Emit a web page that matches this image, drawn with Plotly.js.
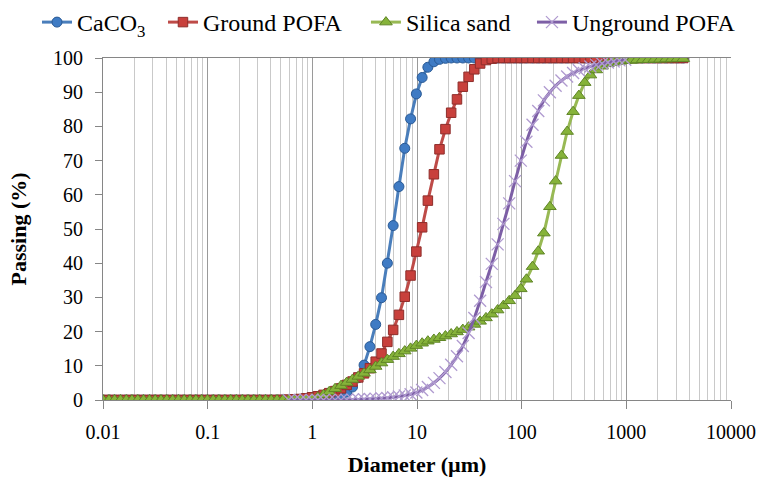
<!DOCTYPE html>
<html>
<head>
<meta charset="utf-8">
<script src="https://cdn.plot.ly/plotly-3.0.1.min.js"></script>
<style>
  html, body { margin: 0; padding: 0; background: #ffffff; }
  #chart { width: 763px; height: 482px; }
</style>
</head>
<body>
<div id="chart"></div>
<script>
// Particle size classes (µm)
const sizes = [
  0.0100, 0.0114, 0.0129, 0.0147, 0.0167, 0.0189, 0.0215, 0.0244, 0.0278, 0.0315,
  0.0358, 0.0407, 0.0463, 0.0526, 0.0597, 0.0679, 0.0771, 0.0876, 0.0995, 0.113,
  0.128, 0.146, 0.166, 0.188, 0.214, 0.243, 0.276, 0.314, 0.357, 0.405,
  0.460, 0.523, 0.594, 0.675, 0.767, 0.872, 0.991, 1.13, 1.28, 1.45,
  1.65, 1.88, 2.13, 2.42, 2.75, 3.12, 3.55, 4.03, 4.58, 5.21,
  5.92, 6.72, 7.64, 8.68, 9.86, 11.2, 12.7, 14.5, 16.4, 18.7,
  21.2, 24.1, 27.4, 31.1, 35.3, 40.1, 45.6, 51.8, 58.9, 66.9,
  76.0, 86.4, 98.1, 111, 127, 144, 163, 186, 211, 240,
  272, 310, 352, 400, 454, 516, 586, 666, 756, 859,
  976, 1110, 1260, 1430, 1630, 1850, 2100, 2390, 2710, 3080,
  3500
];

// Cumulative passing (%)
const caco3 = [
  0, 0, 0, 0, 0, 0, 0, 0, 0, 0,
  0, 0, 0, 0, 0, 0, 0, 0, 0, 0,
  0, 0, 0, 0, 0, 0, 0, 0, 0, 0,
  0, 0, 0, 0, 0, 0, 0, 0, 0.1, 0.3,
  0.7, 1.3, 2.3, 3.8, 6.5, 10.2, 15.6, 22.1, 29.9, 40.0,
  51.0, 62.4, 73.6, 82.2, 89.5, 94.3, 97.3, 98.9, 99.6, 99.9,
  100, 100, 100, 100, 100, 100, 100, 100, 100, 100,
  100, 100, 100, 100, 100, 100, 100, 100, 100, 100,
  100, 100, 100, 100, 100, 100, 100, 100, 100, 100,
  100, 100, 100, 100, 100, 100, 100, 100, 100, 100,
  100
];

const groundPOFA = [
  0, 0, 0, 0, 0, 0, 0, 0, 0, 0,
  0, 0, 0, 0, 0, 0, 0, 0, 0, 0,
  0, 0, 0, 0, 0, 0, 0, 0, 0, 0,
  0, 0.05, 0.1, 0.2, 0.3, 0.5, 0.8, 1.1, 1.5, 2.0,
  2.6, 3.4, 4.4, 5.4, 6.6, 7.8, 9.3, 11.2, 13.6, 17.0,
  20.5, 24.9, 30.2, 36.4, 43.4, 50.5, 58.3, 66.0, 73.3, 79.2,
  84.0, 87.9, 91.6, 94.5, 96.7, 98.4, 99.4, 99.8, 100, 100,
  100, 100, 100, 100, 100, 100, 100, 100, 100, 100,
  100, 100, 100, 100, 100, 100, 100, 100, 100, 100,
  100, 100, 100, 100, 100, 100, 100, 100, 100, 100,
  100
];

const silicaSand = [
  0, 0, 0, 0, 0, 0, 0, 0, 0, 0,
  0, 0, 0, 0, 0, 0, 0, 0, 0, 0,
  0, 0, 0, 0, 0, 0, 0, 0, 0, 0,
  0, 0, 0, 0, 0, 0.1, 0.3, 0.8, 1.5, 2.4,
  3.3, 4.2, 5.1, 6.0, 6.9, 7.8, 8.8, 9.8, 10.8, 11.8,
  12.7, 13.5, 14.3, 15.1, 15.9, 16.6, 17.2, 17.7, 18.2, 18.7,
  19.3, 19.9, 20.6, 21.3, 22.1, 23.0, 24.0, 25.1, 26.3, 27.6,
  29.0, 30.5, 32.5, 35.3, 39.0, 43.5, 48.8, 56.5, 64.0, 71.5,
  78.5, 84.3, 89.0, 92.8, 95.0, 96.5, 97.6, 98.3, 98.7, 99.0,
  99.2, 99.3, 99.4, 99.5, 99.5, 99.6, 99.6, 99.7, 99.7, 99.8,
  99.8
];

const ungroundPOFA = [
  null, null, null, null, null, null, null, null, null, null,
  null, null, null, null, null, null, null, null, null, null,
  null, null, null, null, null, null, null, null, null, null,
  null, null, 0, 0, 0, 0, 0, 0, 0, 0,
  0, 0, 0.05, 0.1, 0.15, 0.2, 0.3, 0.4, 0.5, 0.6,
  0.8, 1.0, 1.3, 1.7, 2.2, 2.9, 3.8, 5.0, 6.4, 8.2,
  10.3, 12.8, 15.8, 19.6, 24.0, 29.0, 34.5, 39.8, 45.5, 51.5,
  57.5, 64.0, 70.0, 75.5, 80.5, 84.5, 87.6, 90.0, 91.9, 93.4,
  94.6, 95.6, 96.4, 97.0, 97.5, 98.0, 98.4, 98.7, 99.0, 99.3,
  99.5, null, null, null, null, null, null, null, null, null,
  null
];

const seriesNames = ['CaCO<sub>3</sub>', 'Ground POFA', 'Silica sand', 'Unground POFA'];
const xTickVals = [0.01, 0.1, 1, 10, 100, 1000, 10000];
const xTickText = ['0.01', '0.1', '1', '10', '100', '1000', '10000'];

const serif = 'Liberation Serif';

const traces = [
  {
    x: sizes, y: caco3, name: seriesNames[0], type: 'scatter', mode: 'lines+markers',
    line: { color: '#4a7ebb', width: 3 },
    marker: { symbol: 'circle', size: 10, color: '#3f7bc4', line: { color: '#2a5a95', width: 1 } },
    legendwidth: 0.2006
  },
  {
    x: sizes, y: groundPOFA, name: seriesNames[1], type: 'scatter', mode: 'lines+markers',
    line: { color: '#be4b48', width: 3 },
    marker: { symbol: 'square', size: 9.5, color: '#c8403c', line: { color: '#8e2e2b', width: 1 } },
    legendwidth: 0.3232
  },
  {
    x: sizes, y: silicaSand, name: seriesNames[2], type: 'scatter', mode: 'lines+markers',
    line: { color: '#98b954', width: 3 },
    marker: { symbol: 'triangle-up', size: 11, color: '#86b33a', line: { color: '#5f8526', width: 1 } },
    legendwidth: 0.2643
  },
  {
    x: sizes, y: ungroundPOFA, name: seriesNames[3], type: 'scatter', mode: 'lines+markers',
    line: { color: '#7d5fa6', width: 3, shape: 'spline' },
    marker: { symbol: 'x-thin-open', size: 12, color: '#b09bd0', line: { color: '#a58cc8', width: 1.3 } },
    legend: 'legend2'
  }
];

const legendFont = { family: serif, size: 24, color: '#000000' };

const layout = {
  width: 763, height: 482,
  margin: { l: 103, r: 32, t: 58, b: 82 },
  paper_bgcolor: '#ffffff', plot_bgcolor: '#ffffff',
  font: { family: serif, size: 20, color: '#000000' },
  showlegend: true,
  legend: {
    orientation: 'h', xref: 'container', yref: 'container',
    x: 0.0485, y: 1.0, xanchor: 'left', yanchor: 'top',
    entrywidthmode: 'fraction',
    font: legendFont,
    bgcolor: 'rgba(0,0,0,0)', borderwidth: 0
  },
  legend2: {
    orientation: 'h', xref: 'container', yref: 'container',
    x: 0.6972, y: 1.0, xanchor: 'left', yanchor: 'top',
    font: legendFont,
    bgcolor: 'rgba(0,0,0,0)', borderwidth: 0
  },
  xaxis: {
    type: 'log', range: [-2, 4],
    tickmode: 'array', tickvals: xTickVals, ticktext: xTickText,
    ticks: 'outside', ticklen: 8, tickcolor: '#868686', tickwidth: 1,
    showline: true, linecolor: '#868686', linewidth: 1, mirror: true,
    showgrid: true, gridcolor: '#9a9a9a', gridwidth: 1,
    minor: { dtick: 'D1', showgrid: true, gridcolor: '#c9c9c9', gridwidth: 1, ticks: '' },
    zeroline: false,
    tickfont: { family: serif, size: 20, color: '#000000' },
    ticklabelstandoff: 6,
    title: { text: '<b>Diameter (µm)</b>', font: { family: serif, size: 22, color: '#000000' }, standoff: 14 }
  },
  yaxis: {
    range: [0, 100], dtick: 10, tick0: 0,
    ticks: 'outside', ticklen: 7, tickcolor: '#868686', tickwidth: 1,
    showline: true, linecolor: '#868686', linewidth: 1,
    showgrid: false, zeroline: false,
    tickfont: { family: serif, size: 20, color: '#000000' },
    ticklabelstandoff: 8,
    title: { text: '<b>Passing (%)</b>', font: { family: serif, size: 22, color: '#000000' }, standoff: 20 }
  }
};

Plotly.newPlot('chart', traces, layout, { displayModeBar: false, staticPlot: true });
</script>
</body>
</html>
